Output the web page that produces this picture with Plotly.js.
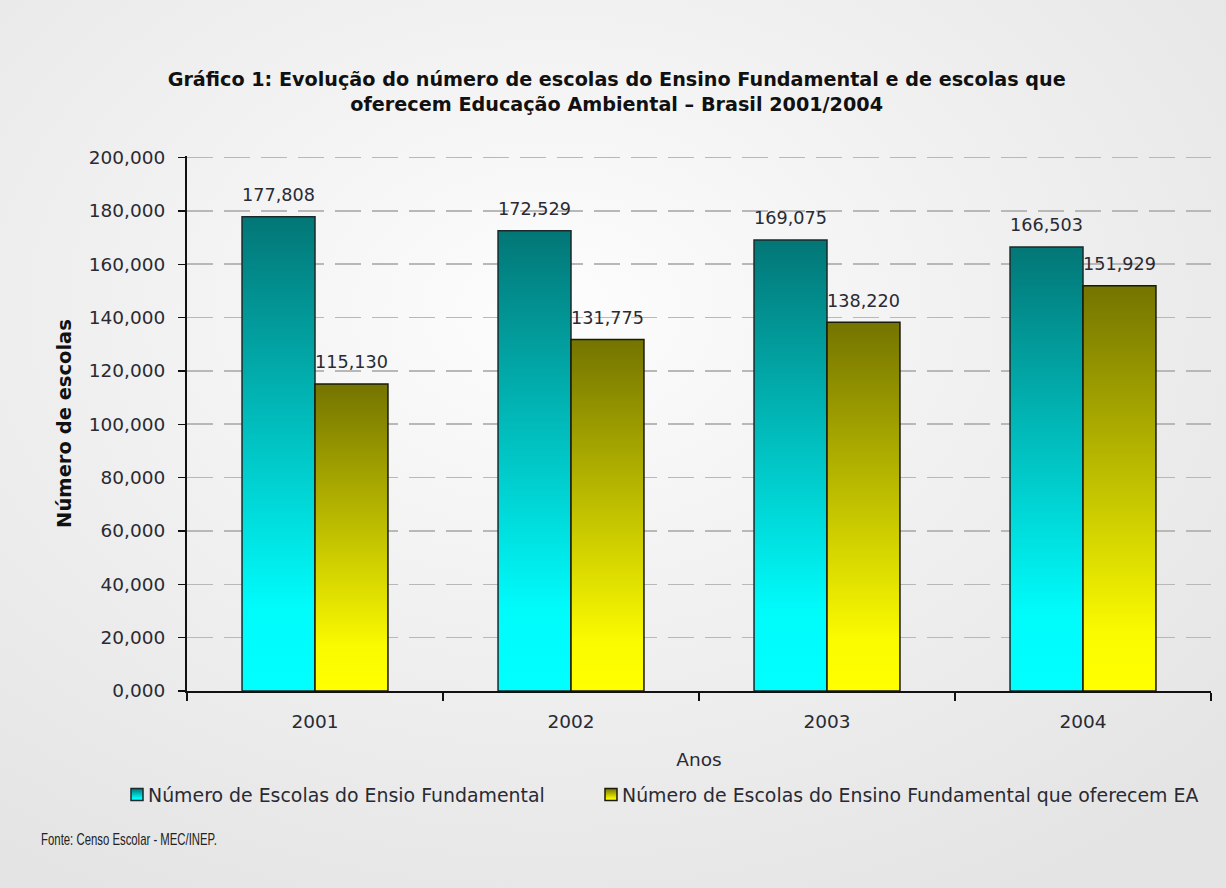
<!DOCTYPE html>
<html>
<head>
<meta charset="utf-8">
<script src="https://cdn.plot.ly/plotly-3.0.1.min.js"></script>
<style>
html,body{margin:0;padding:0;}
body{width:1226px;height:888px;overflow:hidden;
background: radial-gradient(ellipse 75% 75% at 45% 35%, #fdfdfd 0%, #f1f1f1 45%, #e4e4e4 100%);}
#chart{width:1226px;height:888px;}
</style>
</head>
<body>
<div id="chart"></div>
<script>
const years = ['2001','2002','2003','2004'];
const totalSchools = [177808, 172529, 169075, 166503];
const eaSchools = [115130, 131775, 138220, 151929];
const totalLabels = ['177,808','172,529','169,075','166,503'];
const eaLabels = ['115,130','131,775','138,220','151,929'];
const seriesNames = ['Número de Escolas do Ensio Fundamental','Número de Escolas do Ensino Fundamental que oferecem EA'];
const yTickVals = [0,20000,40000,60000,80000,100000,120000,140000,160000,180000,200000];
const yTickText = ['0,000','20,000','40,000','60,000','80,000','100,000','120,000','140,000','160,000','180,000','200,000'];
const sourceText = 'Fonte: Censo Escolar - MEC/INEP.';

const FONT = 'DejaVu Sans, Verdana, sans-serif';
const TXT = '#2a2a33';

const traces = [
  {type:'bar', x:years, y:totalSchools, name:seriesNames[0], text:totalLabels, legend:'legend',
   textposition:'outside', texttemplate:'%{text}', cliponaxis:false,
   textfont:{family:FONT, size:18.5, color:TXT},
   marker:{color:'#2ccfcf', line:{color:'#1a2a2a', width:1.5}}, hoverinfo:'none'},
  {type:'bar', x:years, y:eaSchools, name:seriesNames[1], text:eaLabels, legend:'legend2',
   textposition:'outside', texttemplate:'%{text}', cliponaxis:false,
   textfont:{family:FONT, size:18.5, color:TXT},
   marker:{color:'#e8e800', line:{color:'#1a1a0a', width:1.5}}, hoverinfo:'none'}
];

const legendCommon = {orientation:'h', xref:'container', yref:'container', xanchor:'left', y:0.105, yanchor:'middle',
    font:{family:FONT, size:18.9, color:TXT}, bgcolor:'rgba(0,0,0,0)', itemwidth:30};

const layout = {
  width:1226, height:888,
  paper_bgcolor:'rgba(0,0,0,0)', plot_bgcolor:'rgba(0,0,0,0)',
  margin:{l:187, r:15, t:156, b:197},
  font:{family:FONT, size:17, color:TXT},
  title:{text:'<b>Gráfico 1: Evolução do número de escolas do Ensino Fundamental e de escolas que<br>oferecem Educação Ambiental – Brasil 2001/2004</b>',
    font:{family:'DejaVu Sans, sans-serif', size:19.2, color:'#111111'},
    x:0.503, xanchor:'center', y:0.903, yanchor:'middle', yref:'container'},
  barmode:'group', bargap:0.43, bargroupgap:0,
  showlegend:true,
  legend:Object.assign({}, legendCommon, {x:108/1226}),
  legend2:Object.assign({}, legendCommon, {x:582/1226}),
  xaxis:{type:'category', showline:true, linecolor:'#111111', linewidth:2,
    ticks:'outside', tickson:'boundaries', ticklen:8, tickcolor:'#111111', tickwidth:1.5,
    ticklabelstandoff:13,
    tickfont:{family:FONT, size:18.5, color:TXT},
    title:{text:'Anos', font:{family:FONT, size:18.5, color:TXT}, standoff:22},
    showgrid:false, zeroline:false},
  yaxis:{range:[0,200600], tickvals:yTickVals, ticktext:yTickText,
    showline:true, linecolor:'#111111', linewidth:2,
    ticks:'outside', ticklen:7, tickcolor:'#111111', tickwidth:1.5,
    ticklabelstandoff:9,
    tickfont:{family:FONT, size:18.5, color:TXT},
    showgrid:true, gridcolor:'#b8b8b8', gridwidth:1.6, griddash:'26px,11px',
    zeroline:false,
    title:{text:'<b>Número de escolas</b>', font:{family:FONT, size:19.5, color:'#111111'}, standoff:12}},
  annotations:[
    {text:sourceText, xref:'paper', yref:'paper', x:-0.145, y:-0.277,
     xanchor:'left', yanchor:'middle', showarrow:false,
     font:{family:'Liberation Sans, Arial, sans-serif', size:16, color:'#222222'}}
  ]
};

function addGradients(gd){
  const svg = gd.querySelector('svg.main-svg');
  const ns = 'http://www.w3.org/2000/svg';
  let defs = svg.querySelector('defs');
  if(!defs){ defs = document.createElementNS(ns,'defs'); svg.insertBefore(defs, svg.firstChild); }
  const grads = [
    {id:'gTeal', stops:[[0,'#00ffff'],[0.18,'#00fbfb'],[1,'#037676']]},
    {id:'gOlive', stops:[[0,'#ffff00'],[0.14,'#fbfb00'],[1,'#747400']]}
  ];
  grads.forEach(g=>{
    const lg = document.createElementNS(ns,'linearGradient');
    lg.setAttribute('id', g.id);
    lg.setAttribute('x1','0'); lg.setAttribute('y1','1');
    lg.setAttribute('x2','0'); lg.setAttribute('y2','0');
    g.stops.forEach(s=>{
      const st = document.createElementNS(ns,'stop');
      st.setAttribute('offset', s[0]);
      st.setAttribute('stop-color', s[1]);
      lg.appendChild(st);
    });
    defs.appendChild(lg);
  });
  gd.querySelectorAll('.barlayer .trace').forEach((t,i)=>{
    t.querySelectorAll('.point path').forEach(p=>{
      p.style.fill = 'url(#' + grads[i].id + ')';
    });
    t.querySelectorAll('text.bartext').forEach(tx=>{
      const tr = tx.getAttribute('transform') || '';
      tx.setAttribute('transform', 'translate(0,-9) ' + tr);
    });
  });
  gd.querySelectorAll('.legendpoints').forEach(lp=>{
    lp.setAttribute('transform','translate(9,0)');
    const isSecond = lp.closest('.legend2') || lp.closest('[class*="legend2"]');
    lp.querySelectorAll('path').forEach(p=>{ p.style.fill = 'url(#' + (isSecond ? 'gOlive' : 'gTeal') + ')'; });
  });
  // narrow the source note like the reference's condensed face
  const at = gd.querySelector('.annotation-text-g text');
  if(at){
    const bb = at.getBBox();
    const x0 = bb.x;
    const sx = 176 / bb.width;
    at.setAttribute('transform', 'translate(' + x0 + ',0) scale(' + sx + ',1) translate(' + (-x0) + ',0)');
  }
}

Plotly.newPlot('chart', traces, layout, {staticPlot:true, displayModeBar:false}).then(addGradients);
</script>
</body>
</html>
